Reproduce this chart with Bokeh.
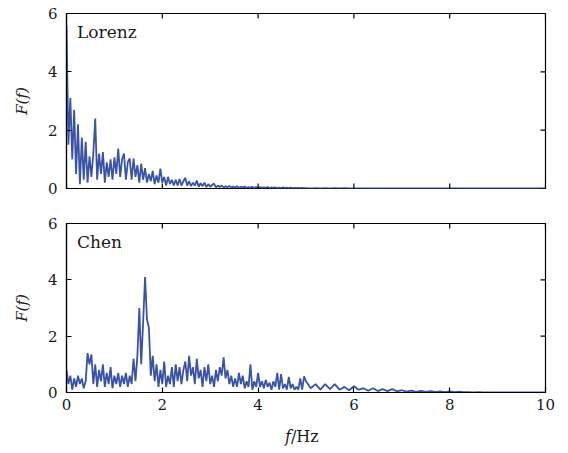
from bokeh.plotting import figure
from bokeh.layouts import column
from bokeh.models import Label, FixedTicker, Range1d, Div
from bokeh.embed import file_html
from bokeh.resources import INLINE
import math

# ---------------- data ----------------
x_ticks = [0, 2, 4, 6, 8, 10]
y_ticks = [0, 2, 4, 6]
x_min, x_max = 0, 10
y_min, y_max = 0, 6
panel_names = ["Lorenz", "Chen"]
x_label_italic = "f"
x_label_rest = "/Hz"
y_label = "F(f)"

# spectrum sampled every 0.04 Hz from 0 to 4.96 Hz
low_step = 0.04
lorenz_low = [
    5.6, 1.5, 3.1, 1.0, 2.7, 0.5, 2.2, 0.15, 1.75, 0.3,
    1.6, 0.2, 1.1, 0.4, 1.2, 2.4, 0.3, 1.2, 0.5, 1.25,
    0.2, 0.9, 0.4, 1.0, 0.3, 1.07, 0.5, 1.37, 0.4, 1.0,
    1.2, 0.3, 0.9, 1.03, 0.3, 1.03, 0.4, 0.8, 0.2, 0.85,
    0.3, 0.7, 0.2, 0.5, 0.25, 0.6, 0.15, 0.45, 0.2, 0.68,
    0.2, 0.4, 0.1, 0.4, 0.15, 0.3, 0.1, 0.3, 0.1, 0.33,
    0.1, 0.25, 0.37, 0.1, 0.25, 0.08, 0.2, 0.1, 0.27, 0.06,
    0.18, 0.08, 0.2, 0.05, 0.15, 0.06, 0.12, 0.17, 0.04, 0.1,
    0.05, 0.1, 0.03, 0.08, 0.04, 0.09, 0.03, 0.07, 0.03, 0.08,
    0.02, 0.06, 0.03, 0.07, 0.02, 0.05, 0.03, 0.06, 0.02, 0.05,
    0.02, 0.05, 0.02, 0.04, 0.02, 0.05, 0.01, 0.04, 0.02, 0.04,
    0.01, 0.03, 0.01, 0.04, 0.01, 0.03, 0.01, 0.03, 0.01, 0.02,
    0.01, 0.02, 0.01, 0.02, 0.01,
]
chen_low = [
    0.8, 0.3, 0.6, 0.1, 0.5, 0.2, 0.6, 0.3, 0.5, 0.15,
    0.4, 1.4, 1.0, 1.35, 0.3, 1.0, 0.2, 0.8, 0.4, 1.0,
    0.2, 0.7, 0.3, 0.9, 0.15, 0.6, 0.3, 0.7, 0.2, 0.6,
    0.3, 0.7, 0.2, 0.6, 0.3, 1.2, 0.4, 1.3, 3.0, 1.0,
    2.5, 4.1, 2.6, 2.3, 0.6, 1.3, 0.4, 1.0, 0.2, 0.8,
    0.3, 1.1, 0.2, 0.6, 0.3, 0.9, 0.2, 1.0, 0.4, 0.9,
    0.3, 0.8, 1.1, 0.4, 1.3, 0.6, 0.9, 0.3, 1.2, 0.5,
    0.8, 0.2, 0.9, 0.4, 1.0, 0.3, 0.6, 0.2, 0.8, 0.4,
    0.9, 0.6, 1.25, 0.5, 0.8, 0.3, 0.6, 0.2, 0.5, 0.2,
    0.7, 0.3, 0.6, 0.15, 0.4, 0.2, 1.0, 0.1, 0.4, 0.2,
    0.7, 0.2, 0.4, 0.15, 0.45, 0.2, 0.35, 0.1, 0.4, 0.2,
    0.7, 0.1, 0.65, 0.15, 0.3, 0.1, 0.55, 0.15, 0.3, 0.1,
    0.2, 0.1, 0.5, 0.1, 0.57,
]
# tail sampled every 0.1 Hz from 5.0 to 10.0 Hz
tail_start = 5.0
tail_step = 0.1
lorenz_tail = [
    0.01, 0.005, 0.01, 0.005, 0.01, 0.004, 0.008, 0.004, 0.008, 0.003,
    0.006, 0.003, 0.006, 0.003, 0.005, 0.002, 0.005, 0.002, 0.004, 0.002,
    0.004, 0.002, 0.003, 0.002, 0.003, 0.002, 0.003, 0.002, 0.002, 0.002,
    0.002, 0.002, 0.002, 0.002, 0.002, 0.002, 0.002, 0.002, 0.002, 0.002,
    0.002, 0.002, 0.002, 0.002, 0.002, 0.002, 0.002, 0.002, 0.002, 0.002,
    0.002,
]
chen_tail = [
    0.4, 0.15, 0.3, 0.1, 0.3, 0.12, 0.3, 0.1, 0.2, 0.08,
    0.22, 0.1, 0.15, 0.06, 0.15, 0.05, 0.12, 0.05, 0.12, 0.04,
    0.08, 0.03, 0.07, 0.02, 0.06, 0.02, 0.05, 0.02, 0.04, 0.01,
    0.04, 0.01, 0.03, 0.01, 0.01, 0.005, 0.008, 0.004, 0.006, 0.004,
    0.005, 0.003, 0.004, 0.003, 0.003, 0.003, 0.003, 0.003, 0.003, 0.003,
    0.003,
]


def build(low, tail):
    xs = [round(i * low_step, 4) for i in range(len(low))]
    xs += [round(tail_start + i * tail_step, 4) for i in range(len(tail))]
    return xs, list(low) + list(tail)


series = [build(lorenz_low, lorenz_tail), build(chen_low, chen_tail)]

# ---------------- style ----------------
FONT = "DejaVu Serif"
LINE = "#3A53A4"
TXT = "#1a1a1a"


def style_axis(ax):
    ax.axis_line_color = "black"
    ax.axis_line_width = 1.2
    ax.major_tick_line_color = "black"
    ax.major_tick_line_width = 1.2
    ax.major_tick_in = 5
    ax.major_tick_out = 0
    ax.minor_tick_in = 0
    ax.minor_tick_out = 0
    ax.major_label_text_font = FONT
    ax.major_label_text_color = TXT
    ax.major_label_text_font_size = "15px"


def make_panel(idx, height, top, bottom, show_x):
    xs, ys = series[idx]
    p = figure(width=560, height=height,
               x_range=Range1d(x_min, x_max), y_range=Range1d(y_min, y_max),
               output_backend="svg", toolbar_location=None,
               min_border_left=66, min_border_right=15,
               min_border_top=top, min_border_bottom=bottom)
    p.grid.visible = False
    p.outline_line_color = "black"
    p.outline_line_width = 1.2
    p.background_fill_color = "white"
    p.border_fill_color = "white"
    p.line(xs, ys, color=LINE, line_width=1.8)

    # inward ticks on the unlabeled sides (clipped to the frame)
    p.scatter(x_ticks, [y_max] * len(x_ticks), marker="dash", angle=math.pi / 2,
              size=10, line_color="black", line_width=1.2)
    p.scatter([x_max] * len(y_ticks), y_ticks, marker="dash",
              size=10, line_color="black", line_width=1.2)

    p.yaxis[0].ticker = FixedTicker(ticks=y_ticks)
    style_axis(p.yaxis[0])
    p.yaxis[0].major_label_standoff = 9
    p.yaxis[0].axis_label = y_label
    p.yaxis[0].axis_label_text_font = FONT
    p.yaxis[0].axis_label_text_font_style = "italic"
    p.yaxis[0].axis_label_text_font_size = "15px"
    p.yaxis[0].axis_label_text_color = TXT
    p.yaxis[0].axis_label_standoff = 14

    if show_x:
        p.xaxis[0].ticker = FixedTicker(ticks=x_ticks)
        style_axis(p.xaxis[0])
        p.xaxis[0].major_label_standoff = 6
    else:
        p.xaxis.visible = False
        p.scatter(x_ticks, [y_min] * len(x_ticks), marker="dash", angle=math.pi / 2,
                  size=10, line_color="black", line_width=1.2)

    p.add_layout(Label(x=0.22, y=5.35, text=panel_names[idx],
                       text_font=FONT, text_font_size="17px",
                       text_color=TXT, text_baseline="middle"))
    return p


p1 = make_panel(0, 200, 13, 12, False)
p2 = make_panel(1, 220, 23, 28, True)
xlab = Div(text=f"<i>{x_label_italic}</i>{x_label_rest}", width=120, height=34,
           margin=(0, 0, 0, 285),
           styles={"font-family": FONT, "font-size": "16px", "color": TXT,
                   "line-height": "34px", "white-space": "nowrap"})
p = column(p1, p2, xlab)

open("out.html", "w").write(file_html(p, INLINE))
